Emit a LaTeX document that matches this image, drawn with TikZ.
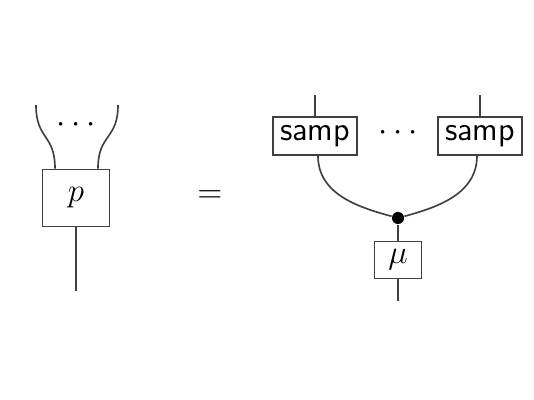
\documentclass[tikz,border=0pt]{standalone}
\usepackage{tikz}
\usetikzlibrary{positioning,calc}

\tikzset{
	wire/.style={black!75,semithick},
	morph/.style={draw=black!75,semithick,fill=white,inner sep=0pt},
	sampbox/.style={morph,minimum width=1.075cm,minimum height=0.486cm,font=\sffamily\large},
}

\begin{document}
\begin{tikzpicture}[x=0.0128cm,y=-0.0128cm]
	\useasboundingbox (0,0) rectangle (534,400);
	
	% left side
	\node[morph,minimum width=0.858cm,minimum height=0.73cm,font=\large] (p) at (76,198) {$p$};
	\coordinate (pin1) at (36,105);
	\coordinate (pin2) at (118,105);
	\coordinate (pout) at (76,291);
	\draw[wire] ($(p.north)+(-21,0)$) .. controls +(0,-35) and (36,140) .. (pin1);
	\draw[wire] ($(p.north)+(22,0)$) .. controls +(0,-35) and (118,140) .. (pin2);
	\draw[wire] (p) -- (pout);
	\node[font=\large] (ldots) at (76,125) {$\cdots$};
	
	% equals
	\node[font=\large] (eq) at (210,197) {$=$};
	
	% right side
	\node[sampbox] (s1) at (315,136) {samp};
	\node[sampbox] (s2) at (480,136) {samp};
	\node[font=\large] (rdots) at (398,133) {$\cdots$};
	\coordinate (s1in) at (315,95);
	\coordinate (s2in) at (480,95);
	\draw[wire] (s1) -- (s1in);
	\draw[wire] (s2) -- (s2in);
	\node[circle,fill=black,inner sep=0pt,minimum size=0.155cm] (dot) at (398,218) {};
	\draw[wire] ($(s1.south)+(3,0)$) to[out=-90,in=165] (dot);
	\draw[wire] ($(s2.south)+(-3,0)$) to[out=-90,in=15] (dot);
	\node[morph,minimum width=0.6cm,minimum height=0.474cm,font=\large] (mu) at (398,260) {$\mu$};
	\coordinate (muout) at (398,301);
	\draw[wire] (dot) -- (mu);
	\draw[wire] (mu) -- (muout);
\end{tikzpicture}
\end{document}
